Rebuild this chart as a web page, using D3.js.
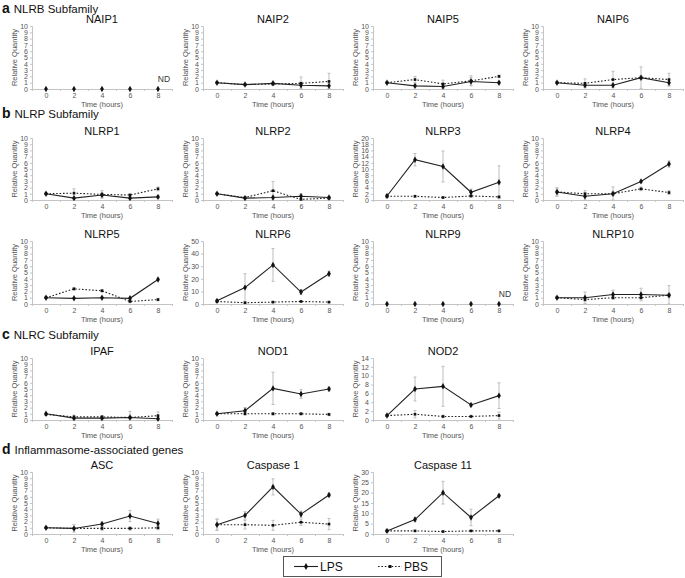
<!DOCTYPE html>
<html><head><meta charset="utf-8">
<script src="https://cdn.jsdelivr.net/npm/d3@7"></script>
<style>body{margin:0;background:#fff}svg{display:block}</style>
</head><body><svg id="c" width="685" height="578"></svg>
<script>
// ---------- data ----------
const times = [0, 2, 4, 6, 8];
const sections = [
  {letter: "a", label: "NLRB Subfamily", row: 0},
  {letter: "b", label: "NLRP Subfamily", row: 1},
  {letter: "c", label: "NLRC Subfamily", row: 3},
  {letter: "d", label: "Inflammasome-associated genes", row: 4}
];
const genes = ["NAIP1","NAIP2","NAIP5","NAIP6",
               "NLRP1","NLRP2","NLRP3","NLRP4",
               "NLRP5","NLRP6","NLRP9","NLRP10",
               "IPAF","NOD1","NOD2",
               "ASC","Caspase 1","Caspase 11"];
const geneRow = [0,0,0,0, 1,1,1,1, 2,2,2,2, 3,3,3, 4,4,4];
const geneCol = [0,1,2,3, 0,1,2,3, 0,1,2,3, 0,1,2, 0,1,2];
const yMax  = [10,10,10,10, 10,10,20,10, 10,50,10,10, 10,10,14, 10,10,30];
const yStep = [1,1,1,1, 1,1,2,1, 1,10,1,1, 1,1,2, 1,1,5];
const notDetected = ["NAIP1","NLRP9"];
const lpsValues = [
  [0,0,0,0,0],
  [1.0,0.7,0.9,0.6,0.5],
  [1.0,0.5,0.4,1.2,1.0],
  [1.0,0.6,0.6,1.8,1.0],
  [1.0,0.3,0.8,0.3,0.5],
  [1.0,0.3,0.4,0.6,0.4],
  [1.3,13.0,10.8,2.5,5.7],
  [1.3,0.6,1.0,3.0,5.8],
  [1.0,0.9,1.0,0.9,3.9],
  [2.5,13,31,9.5,24],
  [0,0,0,0,0],
  [1.0,1.0,1.5,1.5,1.4],
  [1.0,0.3,0.3,0.4,0.2],
  [1.0,1.5,5.1,4.2,5.0],
  [1.0,7.0,7.6,3.4,5.5],
  [1.0,0.9,1.6,2.9,1.7],
  [1.5,3.0,7.6,3.2,6.3],
  [1.5,7.0,20.0,8.0,18.5]
];
const pbsValues = [
  [0,0,0,0,0],
  [1.0,0.7,0.8,0.9,1.2],
  [1.0,1.5,0.8,1.3,2.0],
  [1.0,0.9,1.5,1.8,1.5],
  [1.0,1.1,0.9,0.8,1.8],
  [1.0,0.4,1.5,0.1,0.3],
  [1.2,1.2,0.8,1.3,1.0],
  [1.3,1.0,1.0,1.8,1.2],
  [1.0,2.4,2.1,0.4,0.7],
  [2.0,1.0,1.5,2.0,1.5],
  [0,0,0,0,0],
  [1.0,0.7,1.0,1.0,1.4],
  [0.9,0.5,0.5,0.4,0.7],
  [1.0,1.0,1.0,1.0,0.9],
  [1.0,1.3,0.8,0.8,1.0],
  [1.0,0.9,0.9,0.9,1.0],
  [1.5,1.5,1.4,1.9,1.6],
  [1.5,1.5,1.2,1.5,1.5]
];
const lpsErr = [
  [0,0,0,0,0],
  [0.1,0.1,0.2,0.5,0.4],
  [0.1,0.3,0.3,0.6,0.2],
  [0.1,0.3,0.3,1.7,0.5],
  [0.1,0.2,0.3,0.2,0.2],
  [0.1,0.1,0.2,0.4,0.1],
  [0.5,2.0,5.0,1.0,5.3],
  [0.7,0.6,1.1,0.2,0.5],
  [0.1,0.1,0.1,0.2,0.2],
  [1,11,13,2,2],
  [0,0,0,0,0],
  [0.1,0.9,0.7,1.0,1.5],
  [0.1,0.2,0.2,0.2,0.1],
  [0.1,0.5,2.6,0.7,0.3],
  [0.2,2.7,4.5,0.3,2.9],
  [0.1,0.1,0.3,0.9,0.7],
  [0.9,0.6,1.3,0.5,0.3],
  [0.5,1.0,5.5,4.0,0.5]
];
const pbsErr = [
  [0,0,0,0,0],
  [0.1,0.1,0.2,1.0,1.3],
  [0.1,0.5,0.6,0.8,0.2],
  [0.1,0.7,1.3,0.3,1.0],
  [0.1,0.7,0.6,0.2,0.3],
  [0.1,0.2,1.5,0.8,0.2],
  [0.3,0.3,0.2,0.4,0.3],
  [0.5,0.5,0.3,0.3,0.3],
  [0.1,0.2,0.2,0.2,0.2],
  [0.5,0.5,0.5,0.5,0.5],
  [0,0,0,0,0],
  [0.1,0.3,0.3,0.3,0.3],
  [0.1,0.3,0.2,1.0,0.6],
  [0.1,0.2,0.2,0.2,0.2],
  [0.2,0.8,0.3,0.3,0.8],
  [0.1,0.6,0.3,0.3,0.3],
  [0.9,0.7,0.8,0.5,0.9],
  [0.3,0.3,0.3,0.3,0.3]
];
const seriesNames = ["LPS", "PBS"];

// ---------- layout ----------
const FONT = "'Liberation Sans', Arial, Helvetica, sans-serif";
const colX = [32, 203, 373, 543];      // left edge of each plot area
const plotW = 140;
const rowTop  = [26, 138, 241, 358, 472];
const rowZero = [89, 200, 304, 420, 534];
const headY = [13, 118, 0, 339, 454];

const svg = d3.select("#c").style("font-family", FONT);

sections.forEach(s => {
  const t = svg.append("text").attr("x", 2).attr("y", headY[s.row]).attr("fill", "#111");
  t.append("tspan").attr("font-weight", "bold").attr("font-size", 14).text(s.letter);
  t.append("tspan").attr("dx", 4).attr("font-size", 11.5).text(s.label);
});

const lineGen = (x, y) => d3.line().x((d, i) => x(times[i])).y(d => y(d));

genes.forEach((g, gi) => {
  const x0 = colX[geneCol[gi]];
  const top = rowTop[geneRow[gi]], zero = rowZero[geneRow[gi]];
  const x = d3.scaleLinear().domain([-1, 9]).range([x0, x0 + plotW]);
  const y = d3.scaleLinear().domain([0, yMax[gi]]).range([zero, top]);
  const p = svg.append("g");

  // title
  p.append("text").attr("x", x0 + plotW / 2).attr("y", top - 3)
    .attr("text-anchor", "middle").attr("font-size", 11).attr("fill", "#111").text(g);

  // y axis
  const ya = p.append("g").attr("transform", `translate(${x0},0)`)
    .call(d3.axisLeft(y).tickValues(d3.range(0, yMax[gi] + 0.001, yStep[gi])).tickSize(2).tickPadding(2));
  ya.selectAll("text").attr("font-size", 7).attr("fill", "#555").attr("font-family", FONT);
  ya.selectAll("line,path").attr("stroke", "#c4c4c4");

  // x axis (boundary ticks + category labels)
  const xa = p.append("g").attr("transform", `translate(0,${zero})`)
    .call(d3.axisBottom(x).tickValues([-1, 1, 3, 5, 7, 9]).tickSize(2).tickSizeOuter(0).tickFormat(""));
  xa.selectAll("line,path").attr("stroke", "#c4c4c4");
  const xl = p.append("g").attr("transform", `translate(0,${zero})`)
    .call(d3.axisBottom(x).tickValues(times).tickSize(0).tickPadding(4));
  xl.select(".domain").remove();
  xl.selectAll("text").attr("font-size", 7).attr("fill", "#555").attr("font-family", FONT);

  // axis titles
  p.append("text").attr("transform", `translate(${x0 - 15},${(top + zero) / 2}) rotate(-90)`)
    .attr("text-anchor", "middle").attr("font-size", 7.5).attr("fill", "#555").text("Relative Quantity");
  p.append("text").attr("x", x0 + plotW / 2).attr("y", zero + 18)
    .attr("text-anchor", "middle").attr("font-size", 7.5).attr("fill", "#555").text("Time (hours)");

  // error bars
  [[lpsValues, lpsErr], [pbsValues, pbsErr]].forEach(([vals, errs]) => {
    vals[gi].forEach((v, i) => {
      const e = errs[gi][i];
      if (e <= 0) return;
      const lo = y(Math.max(0, v - e)), hi = y(v + e), cx = x(times[i]);
      p.append("line").attr("x1", cx).attr("x2", cx).attr("y1", lo).attr("y2", hi)
        .attr("stroke", "#bdbdbd").attr("stroke-width", 1);
      [lo, hi].forEach(yy => p.append("line").attr("x1", cx - 1.5).attr("x2", cx + 1.5)
        .attr("y1", yy).attr("y2", yy).attr("stroke", "#bdbdbd").attr("stroke-width", 1));
    });
  });

  const nd = notDetected.includes(g);
  if (!nd) {
    // PBS dotted
    p.append("path").datum(pbsValues[gi]).attr("d", lineGen(x, y))
      .attr("fill", "none").attr("stroke", "#222").attr("stroke-width", 1.1).attr("stroke-dasharray", "1.6,1.8");
    // LPS solid
    p.append("path").datum(lpsValues[gi]).attr("d", lineGen(x, y))
      .attr("fill", "none").attr("stroke", "#222").attr("stroke-width", 1.1);
    p.selectAll(null).data(pbsValues[gi]).join("path")
      .attr("transform", (d, i) => `translate(${x(times[i])},${y(d)})`)
      .attr("d", d3.symbol(d3.symbolSquare, 7)).attr("fill", "#111");
  }
  p.selectAll(null).data(lpsValues[gi]).join("path")
    .attr("transform", (d, i) => `translate(${x(times[i])},${y(d)})`)
    .attr("d", d3.symbol(d3.symbolDiamond, 12)).attr("fill", "#111");
  if (nd) {
    p.append("text").attr("x", x(8) + 6).attr("y", zero - 7).attr("text-anchor", "middle")
      .attr("font-size", 8.5).attr("fill", "#333").text("ND");
  }
});

// ---------- legend ----------
const lg = svg.append("g");
lg.append("rect").attr("x", 283.5).attr("y", 556.5).attr("width", 158).attr("height", 20)
  .attr("fill", "#fff").attr("stroke", "#555").attr("stroke-width", 1);
const lgItems = [{x: 294, dash: null, sym: d3.symbolDiamond, size: 14},
                 {x: 378, dash: "1.6,1.8", sym: d3.symbolSquare, size: 9}];
seriesNames.forEach((name, i) => {
  const it = lgItems[i];
  lg.append("line").attr("x1", it.x).attr("x2", it.x + 24).attr("y1", 566.5).attr("y2", 566.5)
    .attr("stroke", "#222").attr("stroke-width", 1.1).attr("stroke-dasharray", it.dash);
  lg.append("path").attr("transform", `translate(${it.x + 12},566.5)`)
    .attr("d", d3.symbol(it.sym, it.size)).attr("fill", "#111");
  lg.append("text").attr("x", it.x + 26).attr("y", 571).attr("font-size", 12).attr("fill", "#111").text(name);
});
</script>
</body></html>
